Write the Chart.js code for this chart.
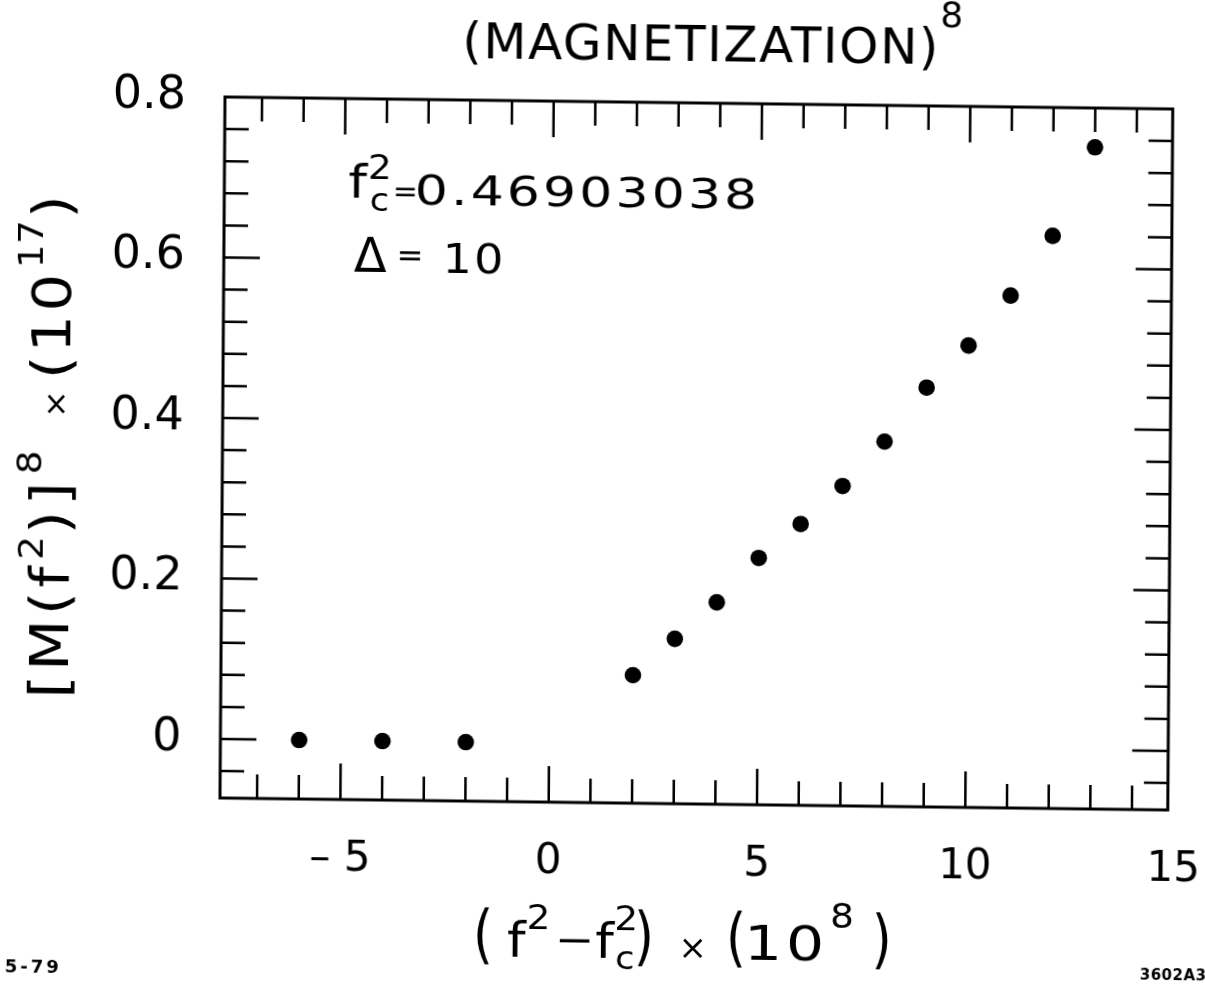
<!DOCTYPE html>
<html>
<head>
<meta charset="utf-8">
<script src="https://cdn.jsdelivr.net/npm/chart.js@4.4.1/dist/chart.umd.min.js"></script>
<style>
  html, body { margin: 0; padding: 0; background: #fff; overflow: hidden; width: 1205px; height: 986px; }
  #wrap { position: absolute; left: 0; top: -20px; }
  /* the scanned page is slightly skewed, so the whole drawing is too */
  canvas { display: block; transform-origin: 225px 117px; transform: matrix(1, 0.01266, -0.00713, 1, 0, 0); }
</style>
</head>
<body>
<div id="wrap"><canvas id="chart" width="1240" height="1010"></canvas></div>
<script>
const xValues = [-6, -4, -2, 2, 3, 4, 5, 6, 7, 8, 9, 10, 11, 12, 13];
const yValues = [0.0, 0.0, 0.0, 0.086, 0.132, 0.178, 0.234, 0.277, 0.325, 0.381, 0.449, 0.502, 0.565, 0.640, 0.751];

const xTicks = [-7, -6, -5, -4, -3, -2, -1, 0, 1, 2, 3, 4, 5, 6, 7, 8, 9, 10, 11, 12, 13, 14, 15];
const xLabels = [-5, 0, 5, 10, 15];
const yTicks = [-0.04, 0, 0.04, 0.08, 0.12, 0.16, 0.2, 0.24, 0.28, 0.32, 0.36, 0.4,
                0.44, 0.48, 0.52, 0.56, 0.6, 0.64, 0.68, 0.72, 0.76, 0.8];
const yLabels = [0, 0.2, 0.4, 0.6, 0.8];

const FONT = "'DejaVu Sans', 'Liberation Sans', sans-serif";
const fontOf = (s, w) => (w || 'normal') + ' ' + s + 'px ' + FONT;

// text pieces laid out one after another, with super/subscripts;
// sx stretches a piece sideways (the lettering on the plate is wide)
function rich(ctx, parts, x, y, align) {
  let cursor = 0, lastX = 0;
  const placed = [];
  for (const p of parts) {
    ctx.font = fontOf(p.s, p.w);
    ctx.letterSpacing = (p.ls || 0) + 'px';
    const w = ctx.measureText(p.t).width * (p.sx || 1);
    const px = p.under ? lastX + (p.dx || 0) : cursor + (p.gap || 0);
    placed.push({ p, px });
    lastX = px;
    cursor = Math.max(cursor, px + w);
  }
  const start = align === 'center' ? x - cursor / 2 : x;
  ctx.textAlign = 'left';
  ctx.textBaseline = 'alphabetic';
  for (const { p, px } of placed) {
    ctx.font = fontOf(p.s, p.w);
    ctx.letterSpacing = (p.ls || 0) + 'px';
    ctx.save();
    ctx.translate(start + px, y + (p.dy || 0));
    ctx.scale(p.sx || 1, 1);
    ctx.fillText(p.t, 0, 0);
    ctx.restore();
  }
  ctx.letterSpacing = '0px';
}

const framePlugin = {
  id: 'frame',
  afterDraw(chart) {
    const { ctx, chartArea: a, scales: { x, y } } = chart;
    ctx.save();
    ctx.strokeStyle = '#000';
    ctx.fillStyle = '#000';
    ctx.lineWidth = 3;
    ctx.strokeRect(a.left, a.top, a.right - a.left, a.bottom - a.top);

    ctx.lineWidth = 2.5;
    ctx.beginPath();
    x.ticks.forEach(t => {
      if (t.value <= x.min || t.value >= x.max) return;
      const px = x.getPixelForValue(t.value);
      const len = xLabels.includes(t.value) ? 36 : 24;
      ctx.moveTo(px, a.bottom); ctx.lineTo(px, a.bottom - len);
      ctx.moveTo(px, a.top); ctx.lineTo(px, a.top + len);
    });
    y.ticks.forEach(t => {
      if (t.value <= y.min || t.value >= y.max) return;
      const py = y.getPixelForValue(t.value);
      const len = yLabels.includes(t.value) ? 36 : 24;
      ctx.moveTo(a.left, py); ctx.lineTo(a.left + len, py);
      ctx.moveTo(a.right, py); ctx.lineTo(a.right - len, py);
    });
    ctx.stroke();

    // title
    rich(ctx, [
      { t: '(MAGNETIZATION)', s: 50, ls: 1.5 },
      { t: '8', s: 36, dy: -37, gap: 0 }
    ], 462, 75, 'left');

    // notes inside the frame
    rich(ctx, [
      { t: 'f', s: 46, sx: 1.15, dy: -6 },
      { t: '2', s: 34, sx: 1.1, dy: -25, gap: 1 },
      { t: 'c', s: 32, sx: 1.1, dy: 7, under: true, dx: 2 },
      { t: '=', s: 30, dy: -3, gap: 1 },
      { t: '0.46903038', s: 40, sx: 1.3, ls: 2.4, gap: -3 }
    ], 349, 221.5, 'left');
    rich(ctx, [
      { t: '\u0394', s: 48 },
      { t: '=', s: 32, dy: -6, gap: 10 },
      { t: '10', s: 40, sx: 1.15, ls: 2, gap: 19 }
    ], 355, 290.4, 'left');

    // x axis title
    rich(ctx, [
      { t: '(', s: 64, sx: 0.8 },
      { t: 'f', s: 48, sx: 1.1, gap: 14 },
      { t: '2', s: 34, sx: 1.1, dy: -28, gap: 1 },
      { t: '\u2013', s: 46, sx: 1.6, dy: -4, gap: 6 },
      { t: 'f', s: 48, sx: 1.1, gap: 2 },
      { t: '2', s: 34, sx: 1.1, dy: -28, gap: 0.5 },
      { t: 'c', s: 32, sx: 1.1, dy: 11, under: true, dx: 1 },
      { t: ')', s: 64, sx: 0.8, gap: -4 },
      { t: '\u00d7', s: 34, gap: 24.6 },
      { t: '(', s: 64, sx: 0.8, gap: 19 },
      { t: '10', s: 48, sx: 1.25, ls: 3, gap: -2 },
      { t: '8', s: 34, sx: 1.1, dy: -33, gap: 2 },
      { t: ')', s: 64, sx: 0.8, gap: 18 }
    ], 479, 973, 'left');

    // y axis title, reading upwards
    ctx.save();
    ctx.translate(72, 469);
    ctx.rotate(-Math.PI / 2);
    ctx.scale(1.1, 1);
    rich(ctx, [
      { t: '[M(f', s: 54, ls: 4 },
      { t: '2', s: 34, dy: -26, gap: 2 },
      { t: ')]', s: 54, ls: 5, gap: 2 },
      { t: '8', s: 34, dy: -28, gap: 2 },
      { t: '\u00d7', s: 30, dy: -4, gap: 30 },
      { t: '(10', s: 54, ls: 3, gap: 10 },
      { t: '17', s: 34, dy: -28, gap: 2 },
      { t: ')', s: 54, gap: 2 }
    ], 0, 0, 'center');
    ctx.restore();

    // plate numbers
    rich(ctx, [{ t: '5-79', s: 18, w: 'bold', ls: 3 }], 11, 995, 'left');
    rich(ctx, [{ t: '3602A3', s: 15, w: 'bold', ls: 0.5 }], 1146, 988, 'left');
    ctx.restore();
  }
};

new Chart(document.getElementById('chart'), {
  type: 'scatter',
  data: {
    datasets: [{
      data: xValues.map((v, i) => ({ x: v, y: yValues[i] })),
      backgroundColor: '#000',
      borderWidth: 0,
      pointRadius: 8.3,
      pointHoverRadius: 8.3
    }]
  },
  options: {
    responsive: false,
    animation: false,
    devicePixelRatio: 1,
    layout: { padding: { top: 117, right: 67, bottom: 0, left: 0 } },
    plugins: { legend: { display: false }, tooltip: { enabled: false } },
    events: [],
    scales: {
      x: {
        type: 'linear',
        bounds: 'data',
        min: -7.89,
        max: 14.86,
        afterBuildTicks: s => { s.ticks = xTicks.map(v => ({ value: v })); },
        afterFit: s => { s.height = 192; },
        grid: { display: false, drawTicks: false },
        border: { display: false },
        ticks: {
          autoSkip: false,
          maxRotation: 0,
          minRotation: 0,
          padding: 35,
          color: '#000',
          font: { family: FONT, size: 42 },
          callback: v => xLabels.includes(v) ? (v < 0 ? '\u2013 ' + Math.abs(v) : String(v)) : ''
        }
      },
      y: {
        type: 'linear',
        bounds: 'data',
        min: -0.0735,
        max: 0.8,
        afterBuildTicks: s => { s.ticks = yTicks.map(v => ({ value: v })); },
        afterFit: s => { s.width = 225; },
        grid: { display: false, drawTicks: false },
        border: { display: false },
        ticks: {
          autoSkip: false,
          padding: 39,
          color: '#000',
          font: { family: FONT, size: 46 },
          callback: v => yLabels.includes(v) ? (v === 0 ? '0' : v.toFixed(1)) : ''
        }
      }
    }
  },
  plugins: [framePlugin]
});
</script>
</body>
</html>
